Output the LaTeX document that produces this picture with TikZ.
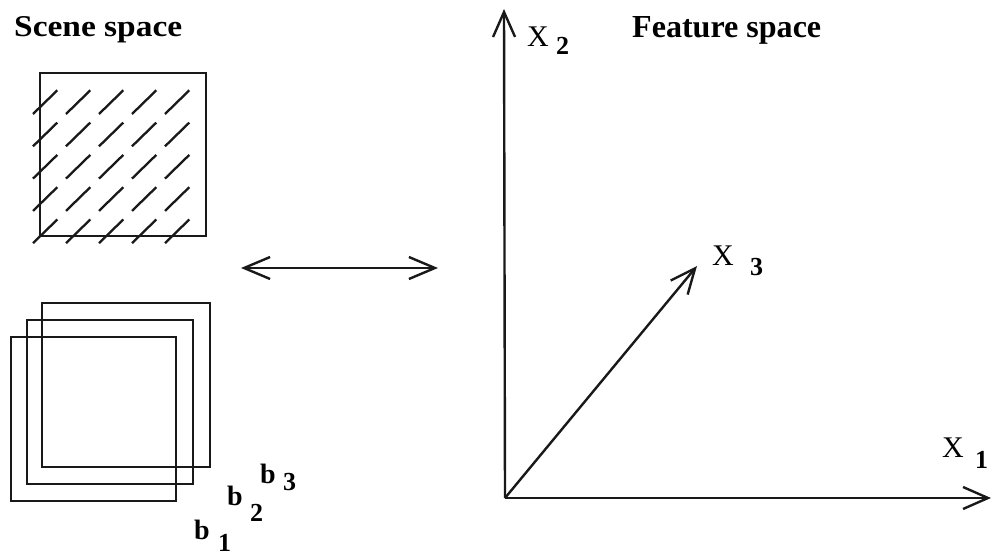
\documentclass[tikz,border=0pt]{standalone}
\usepackage{fontspec}
\setmainfont{Liberation Serif}
\usetikzlibrary{arrows.meta}
\tikzset{
  ln/.style={line width=2.4pt, draw=black!90},
  box/.style={ln},
  hatch/.style={line width=2.3pt, draw=black!90},
  tipv/.style={-{Straight Barb[length=25pt,width=22pt]}},
  tipboth/.style={{Straight Barb[length=26pt,width=22pt]}-{Straight Barb[length=26pt,width=22pt]}},
  xlab/.style={inner sep=0pt, anchor=base west, font=\fontsize{30}{34}\selectfont},
  sublab/.style={inner sep=0pt, anchor=base west, font=\fontsize{26}{30}\selectfont\bfseries},
  blab/.style={inner sep=0pt, anchor=base west, font=\fontsize{28}{30}\selectfont\bfseries},
  title/.style={inner sep=0pt, anchor=base west},
}
\begin{document}
\begin{tikzpicture}[x=1pt,y=-1pt]
\useasboundingbox (0,0) rectangle (993,556);
% titles
\node[title] (scene) at (14,37) {\resizebox{168pt}{20pt}{\bfseries Scene space}};
\node[title] (feature) at (632,38) {\resizebox{189pt}{21pt}{\bfseries Feature space}};
% top hatched square
\draw[box] (40,73) rectangle (206,236);
\foreach \c in {0,...,4}{
  \foreach \r in {0,...,4}{
    \draw[hatch] ({33+33*\c},{114+32.3*\r}) -- ++(24.3,-23.7);
  }
}
% bottom squares
\draw[box] (42,303) rectangle (210,467);
\draw[box] (27,320) rectangle (193,484);
\draw[box] (11,337) rectangle (176,501);
% b labels
\node[blab] (b1) at (194,539) {b};
\node[sublab] (s1) at (218,551) {1};
\node[blab] (b2) at (227,505) {b};
\node[sublab] (s2) at (250,521) {2};
\node[blab] (b3) at (260,483) {b};
\node[sublab] (s3) at (283,490) {3};
% double arrow
\coordinate (dl) at (241,268);
\coordinate (dr) at (438,268);
\draw[ln, tipboth] (dl) -- (dr);
% axes
\coordinate (o) at (505,498);
\coordinate (ax2) at (504,9);
\coordinate (ax1) at (991,498);
\coordinate (ax3) at (697,266);
\draw[ln, tipv] (o) -- (ax2);
\draw[ln, tipv] (o) -- (ax1);
\draw[ln, tipv] (o) -- (ax3);
% axis labels
\node[xlab] (x2) at (527,47) {X};
\node[sublab] (x2s) at (556,55) {2};
\node[xlab] (x1) at (942,457) {X};
\node[sublab] (x1s) at (975,468) {1};
\node[xlab] (x3) at (712,265) {X};
\node[sublab] (x3s) at (750,275) {3};
\end{tikzpicture}
\end{document}
